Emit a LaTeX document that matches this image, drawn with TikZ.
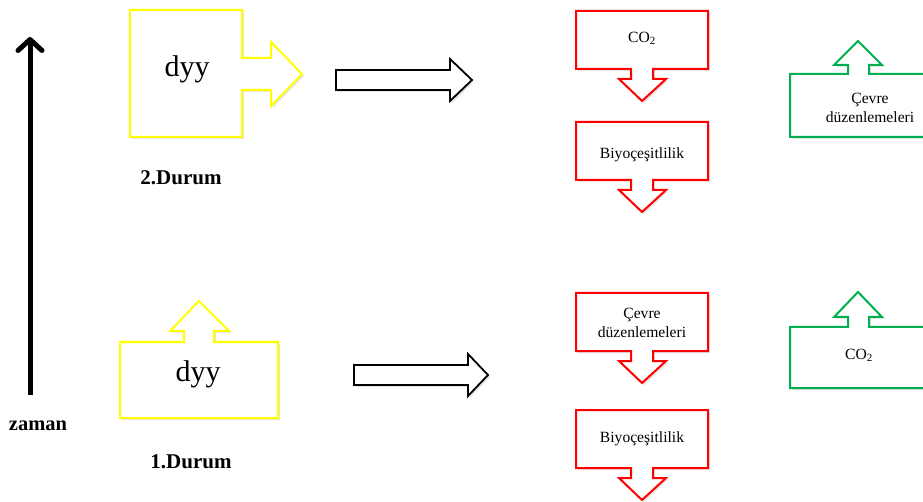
\documentclass[tikz,border=0pt]{standalone}
\usepackage{fontspec}
\setmainfont{Liberation Serif}
\usetikzlibrary{shadows,arrows.meta}
\definecolor{ylw}{RGB}{255,255,0}
\definecolor{rd}{RGB}{255,0,0}
\definecolor{grn}{RGB}{0,176,80}
\tikzset{
  shp/.style={line width=2pt, fill=white, line join=miter,
    drop shadow={shadow xshift=2pt, shadow yshift=-2pt, opacity=0.1, fill=black}},
  ybox/.style={shp, draw=ylw},
  rbox/.style={shp, draw=rd},
  gbox/.style={shp, draw=grn},
  barrow/.style={line width=1.8pt, draw=black, fill=white,
    drop shadow={shadow xshift=2pt, shadow yshift=-2pt, opacity=0.1, fill=black}},
  small/.style={font=\fontsize{15.6}{19.5}\selectfont, align=center, inner sep=0pt},
  big/.style={font=\fontsize{30}{34}\selectfont, inner sep=0pt},
  lbl/.style={font=\fontsize{21}{24}\selectfont\bfseries, inner sep=0pt}
}
\begin{document}
\begin{tikzpicture}[x=1pt,y=-1pt]
\useasboundingbox (0,0) rectangle (923,502);
\fill[white] (0,0) rectangle (923,502);

% time arrow
\coordinate (tb) at (30,395);
\coordinate (tt) at (30,37);
\draw[line width=5pt, -{Straight Barb[length=11pt,width=24pt,line cap=round,line join=round]}] (tb) -- (tt);
\node[lbl, font=\fontsize{20.5}{24}\selectfont\bfseries] (zaman) at (38,426) {zaman};

% yellow top (right arrow callout)
\draw[ybox] (130,10) -- (242,10) -- (242,58) -- (271,58) -- (271,42) -- (302,74)
  -- (271,106) -- (271,90) -- (242,90) -- (242,137) -- (130,137) -- cycle;
\node[big] (dyy2) at (187,69) {dyy};
\node[lbl] (d2) at (181,178) {2.Durum};

% yellow bottom (up arrow callout)
\draw[ybox] (120,342) -- (184,342) -- (184,331) -- (170,331) -- (199,301) -- (229,331)
  -- (214,331) -- (214,342) -- (278,342) -- (278,418) -- (120,418) -- cycle;
\node[big] (dyy1) at (198,374) {dyy};
\node[lbl] (d1) at (191,462) {1.Durum};

% block arrows
\draw[barrow] (336,70) -- (450,70) -- (450,59) -- (472,80) -- (450,101) -- (450,90) -- (336,90) -- cycle;
\draw[barrow] (354,365) -- (468,365) -- (468,354) -- (488,375) -- (468,396) -- (468,385) -- (354,385) -- cycle;

% red down-arrow callouts
\foreach \t in {11,122,293,410}{
  \draw[rbox] (576,\t) -- (708,\t) -- (708,\t+58) -- (653,\t+58) -- (653,\t+68)
    -- (666,\t+68) -- (642,\t+90) -- (619,\t+68) -- (631,\t+68) -- (631,\t+58)
    -- (576,\t+58) -- cycle;
}
\node[small] (r1) at (642,38) {CO\textsubscript{2}};
\node[small] (r2) at (642,155) {Biyoçeşitlilik};
\node[small] (r3) at (642,323) {Çevre\\düzenlemeleri};
\node[small] (r4) at (642,439) {Biyoçeşitlilik};

% green up-arrow callouts
\begin{scope}
\clip (0,0) rectangle (923,502);
\draw[gbox] (790,74) -- (848,74) -- (848,65) -- (834,65) -- (858,41) -- (882,65)
  -- (869,65) -- (869,74) -- (940,74) -- (940,137) -- (790,137) -- cycle;
\draw[gbox] (790,327) -- (848,327) -- (848,317) -- (834,317) -- (858,292) -- (882,317)
  -- (869,317) -- (869,327) -- (940,327) -- (940,388) -- (790,388) -- cycle;
\end{scope}
\node[small, font=\fontsize{15.6}{19}\selectfont] (g1) at (870,108) {Çevre\\düzenlemeleri};
\node[small] (g2) at (859,355) {CO\textsubscript{2}};
\end{tikzpicture}
\end{document}
